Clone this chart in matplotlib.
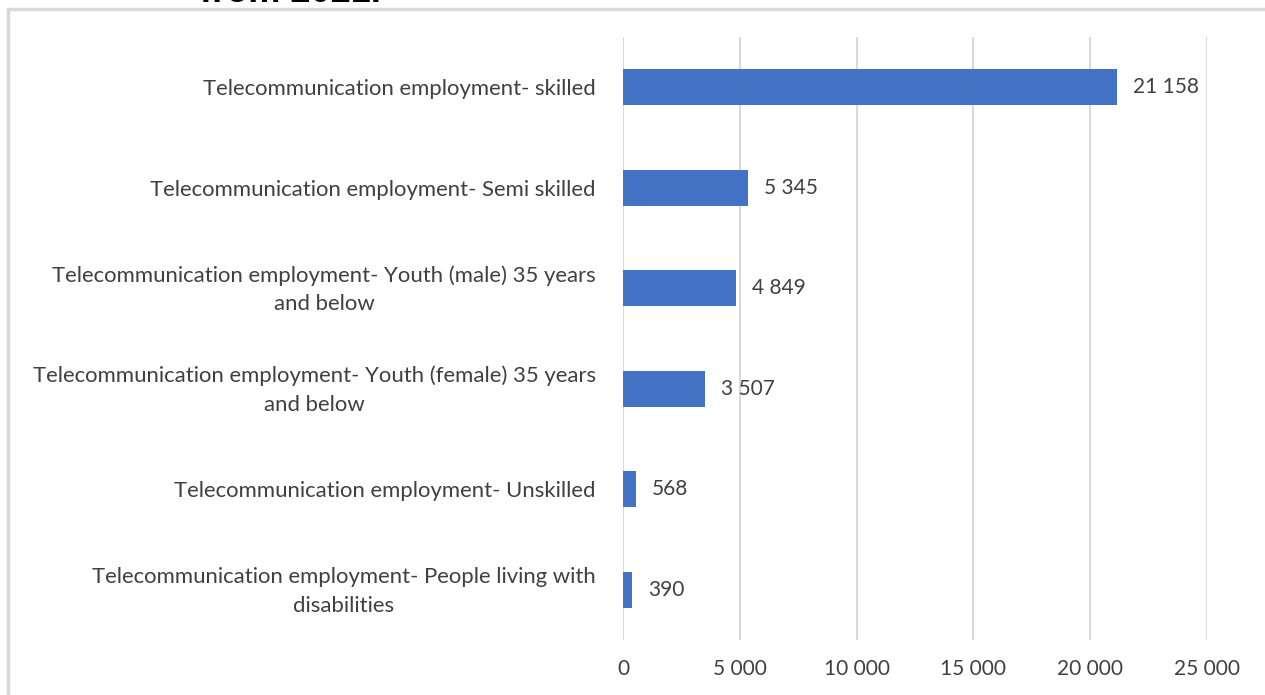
import matplotlib.pyplot as plt
import matplotlib.transforms as mtransforms
from matplotlib.patches import Rectangle

categories = [
    'Telecommunication employment- skilled',
    'Telecommunication employment- Semi skilled',
    'Telecommunication employment- Youth (male) 35 years\nand below',
    'Telecommunication employment- Youth (female) 35 years\nand below',
    'Telecommunication employment- Unskilled',
    'Telecommunication employment- People living with\ndisabilities',
]
values = [21158, 5345, 4849, 3507, 568, 390]
xticks = [0, 5000, 10000, 15000, 20000, 25000]


def fmt(v):
    # thousands separated by a space
    return '{:,}'.format(v).replace(',', ' ')


def run():
    plt.rcParams['font.family'] = ['Lato', 'DejaVu Sans']
    fig = plt.figure(figsize=(12.65, 6.95), dpi=100)

    # outer chart frame
    fig.patches.append(Rectangle((8 / 1265, -0.01), 1.0, 1 - 9 / 695 + 0.01,
                                 transform=fig.transFigure, fill=False,
                                 edgecolor='#D9D9D9', linewidth=2.5))
    # heading above the frame, mostly cut off
    fig.text(200 / 1265, 1 - 2 / 695, 'from 2021.', ha='left', va='baseline',
             fontsize=26, fontweight='bold', family='Liberation Sans', color='black')

    ax = fig.add_axes([623 / 1265, 1 - 640 / 695, (1207 - 623) / 1265, (640 - 37) / 695])
    ypos = list(range(len(categories)))
    ax.barh(ypos, values, height=0.36, color='#4472C4', zorder=3)
    ax.set_ylim(len(categories) - 0.5, -0.5)
    ax.set_xlim(0, 25000)

    ax.set_xticks(xticks)
    ax.set_xticklabels([fmt(t) for t in xticks], fontsize=15)
    ax.set_yticks(ypos)
    ax.set_yticklabels(categories, multialignment='center', linespacing=1.55, fontsize=15.9)
    ax.tick_params(axis='both', length=0, labelcolor='#404040')
    ax.tick_params(axis='x', pad=14)
    ax.tick_params(axis='y', pad=19.5)

    # nudge the two-line labels up a little
    lift = mtransforms.ScaledTranslation(0, 3.5 / 72, fig.dpi_scale_trans)
    for lbl in ax.get_yticklabels():
        if '\n' in lbl.get_text():
            lbl.set_transform(lbl.get_transform() + lift)

    ax.grid(True, axis='x', color='#D9D9D9', linewidth=1.5, zorder=0)
    for s in ax.spines.values():
        s.set_visible(False)

    for y, v in zip(ypos, values):
        ax.annotate(fmt(v), (v, y), xytext=(11.5, 0), textcoords='offset points',
                    ha='left', va='center', fontsize=15, color='#404040')

    plt.savefig('out.png', dpi=100)


if __name__ == '__main__':
    run()
